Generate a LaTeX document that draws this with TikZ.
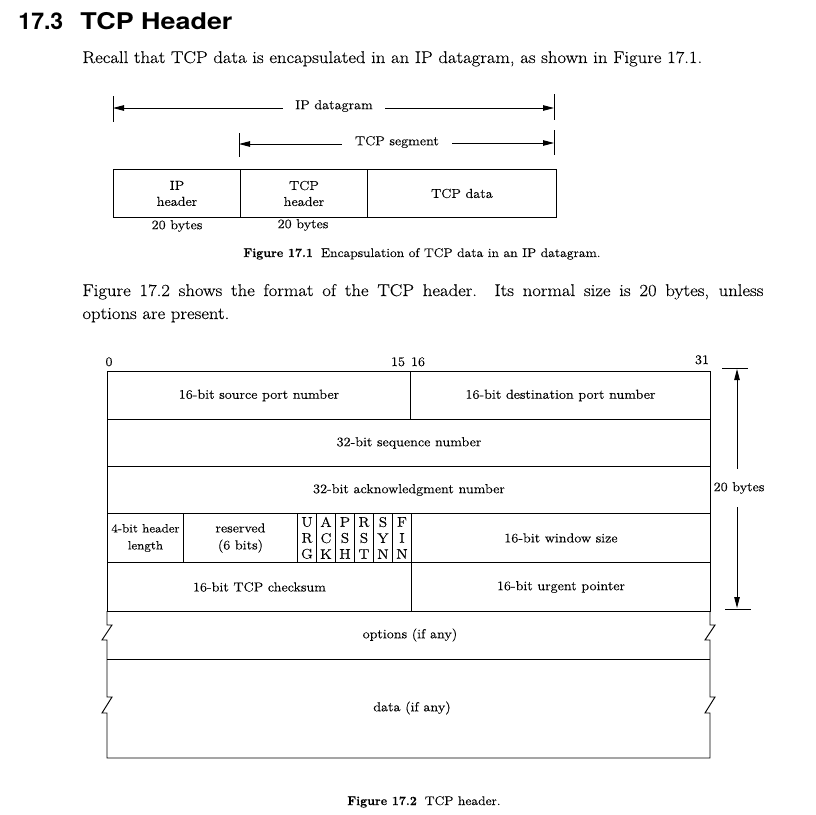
\documentclass[tikz,border=0pt]{standalone}
\usepackage{fontspec}
\setmainfont{Latin Modern Roman}[FakeStretch=1.1, FakeBold=0.25, BoldFeatures={FakeStretch=1.0}]
\newfontfamily\headfont{TeX Gyre Heros}
\newfontfamily\headwidefont{TeX Gyre Heros}[FakeStretch=1.17]
\usetikzlibrary{arrows.meta}
\begin{document}
\begin{tikzpicture}[x=1pt,y=-1pt, line width=0.95pt,
  lbl/.style={font=\fontsize{13}{16}\selectfont, inner sep=0pt, align=center},
  body/.style={font=\fontsize{17}{23}\selectfont, inner sep=0pt, anchor=base west},
  capt/.style={font=\fontsize{12.5}{16}\selectfont, inner sep=0pt},
  tip/.style={-{Triangle[length=11pt,width=5.5pt]}},
  gap/.style={lbl, inner xsep=12pt, inner ysep=2pt},
  cell/.style={draw, anchor=north west, lbl},
  flag/.style={draw, anchor=north west, inner sep=0pt, align=center,
    font=\fontsize{14}{16}\selectfont, minimum width=19pt, minimum height=49pt}
]
\useasboundingbox[fill=white] (0,0) rectangle (816,814);

% heading
\node[anchor=base west, inner sep=0pt, font=\headfont\bfseries\fontsize{23}{26}\selectfont] (secnum) at (18,29) {17.3};
\node[anchor=base west, inner sep=0pt, font=\headwidefont\bfseries\fontsize{23}{26}\selectfont] (sectitle) at (80,29) {TCP Header};

\node[body] (p1) at (82,63) {Recall that TCP data is encapsulated in an IP datagram, as shown in Figure 17.1.};

% ---------------- Figure 17.1
\coordinate (ipL) at (113,108);
\coordinate (ipR) at (554,108);
\node[gap] (ipd) at (334,106) {IP datagram};
\draw[tip] (ipd.west |- ipL) -- (ipL);
\draw[tip] (ipd.east |- ipR) -- (ipR);
\draw (113,96) -- (113,122);
\draw (554,94) -- (554,120);

\coordinate (tsL) at (239,144);
\coordinate (tsR) at (554,143);
\node[gap, inner xsep=13pt] (tcps) at (397,142) {TCP segment};
\draw[tip] (tcps.west |- tsL) -- (tsL);
\draw[tip] (tcps.east |- tsR) -- (tsR);
\draw (239,133) -- (239,157);
\draw (554,130) -- (554,155);

\node[cell, minimum width=127pt, minimum height=48pt] (iph) at (113,169) {IP\\header};
\node[cell, minimum width=127pt, minimum height=48pt] (tcph) at (240,169) {TCP\\header};
\node[cell, minimum width=189pt, minimum height=48pt] (tcpd) at (367,169) {TCP data};
\node[lbl] (b1) at (177,226) {20 bytes};
\node[lbl] (b2) at (303,225) {20 bytes};

\node[capt, anchor=base west] (cap1) at (243,257)
  {\textbf{Figure 17.1}\hspace{8pt}Encapsulation of TCP data in an IP datagram.};

% paragraph
\node[body] (p2a) at (82,296) {\makebox[681pt][s]{Figure 17.2 shows the format of the TCP header.\ \ Its normal size is 20 bytes, unless}};
\node[body] (p2b) at (82,319) {options are present.};

% ---------------- Figure 17.2
\node[lbl, anchor=base] (bit0) at (109,366) {0};
\node[lbl, anchor=base] (bit15) at (408,366) {15\hspace{6pt}16};
\node[lbl, anchor=base] (bit31) at (702,364) {31};

\node[cell, minimum width=303pt, minimum height=48pt] (srcp) at (107,371) {16-bit source port number};
\node[cell, minimum width=300pt, minimum height=48pt] (dstp) at (410,371) {16-bit destination port number};
\node[cell, minimum width=603pt, minimum height=47pt] (seq) at (107,419) {32-bit sequence number};
\node[cell, minimum width=603pt, minimum height=47pt] (ack) at (107,466) {32-bit acknowledgment number};

\node[cell, minimum width=76pt, minimum height=49pt, font=\fontsize{12}{17}\selectfont] (hlen) at (107,513) {4-bit header\\length};
\node[cell, minimum width=114pt, minimum height=49pt, font=\fontsize{13}{17}\selectfont] (resv) at (183,513) {reserved\\(6 bits)};
\node[flag] (furg) at (297,513) {U\\R\\G};
\node[flag] (fack) at (316,513) {A\\C\\K};
\node[flag] (fpsh) at (335,513) {P\\S\\H};
\node[flag] (frst) at (354,513) {R\\S\\T};
\node[flag] (fsyn) at (373,513) {S\\Y\\N};
\node[flag] (ffin) at (392,513) {F\\I\\N};
\node[cell, minimum width=299pt, minimum height=49pt] (win) at (411,513) {16-bit window size};

\node[cell, minimum width=304pt, minimum height=49pt] (csum) at (107,562) {16-bit TCP checksum};
\node[cell, minimum width=299pt, minimum height=49pt] (urg) at (411,562) {16-bit urgent pointer};

% options and data with break marks
\draw (107,659) -- (710,659);
\draw (107,611) -- (107,625) -- (112,625) -- (102,640) -- (107,640)
  -- (107,697) -- (112,697) -- (102,713) -- (107,713) -- (107,758)
  -- (710,758) -- (710,713) -- (705,713) -- (715,697) -- (710,697)
  -- (710,640) -- (705,640) -- (715,625) -- (710,625) -- (710,611);
\node[lbl] (opt) at (410,635) {options (if any)};
\node[lbl] (data) at (412,708) {data (if any)};

% 20 bytes dimension
\coordinate (dimT) at (737,369);
\coordinate (dimB) at (737,608);
\node[lbl, inner ysep=13pt] (dim) at (739,488) {20 bytes};
\draw[tip] (dim.north -| dimT) -- (dimT);
\draw[tip] (dim.south -| dimB) -- (dimB);
\draw (722,368) -- (748,368);
\draw (725,609) -- (751,609);

\node[capt, anchor=base] (cap2) at (424,805)
  {\textbf{Figure 17.2}\hspace{8pt}TCP header.};
\end{tikzpicture}
\end{document}
